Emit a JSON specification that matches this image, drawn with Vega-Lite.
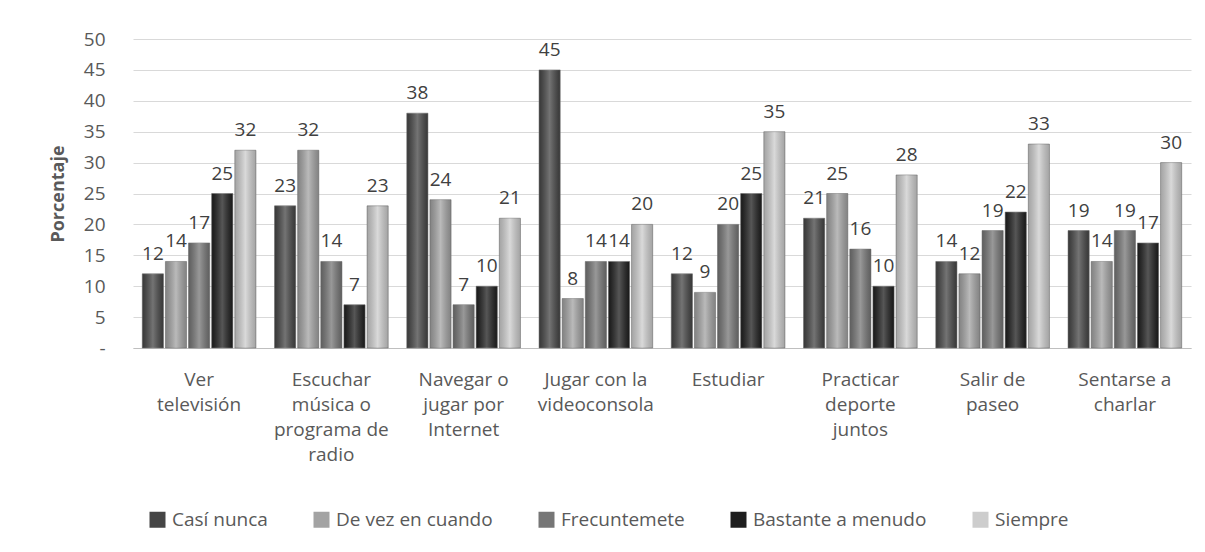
{
  "$schema": "https://vega.github.io/schema/vega-lite/v6.json",
  "autosize": "none",
  "width": 1058,
  "height": 309,
  "padding": {"left": 133, "top": 39, "right": 14, "bottom": 204},
  "background": "white",
  "config": {
    "font": "Open Sans",
    "view": {"stroke": null},
    "axis": {"labelFont": "Open Sans", "titleFont": "Open Sans"}
  },
  "data": {
    "values": [
      {"actividad": "Ver televisión", "frecuencia": "Casí nunca", "valor": 12},
      {"actividad": "Ver televisión", "frecuencia": "De vez en cuando", "valor": 14},
      {"actividad": "Ver televisión", "frecuencia": "Frecuntemete", "valor": 17},
      {"actividad": "Ver televisión", "frecuencia": "Bastante a menudo", "valor": 25},
      {"actividad": "Ver televisión", "frecuencia": "Siempre", "valor": 32},
      {"actividad": "Escuchar música o programa de radio", "frecuencia": "Casí nunca", "valor": 23},
      {"actividad": "Escuchar música o programa de radio", "frecuencia": "De vez en cuando", "valor": 32},
      {"actividad": "Escuchar música o programa de radio", "frecuencia": "Frecuntemete", "valor": 14},
      {"actividad": "Escuchar música o programa de radio", "frecuencia": "Bastante a menudo", "valor": 7},
      {"actividad": "Escuchar música o programa de radio", "frecuencia": "Siempre", "valor": 23},
      {"actividad": "Navegar o jugar por Internet", "frecuencia": "Casí nunca", "valor": 38},
      {"actividad": "Navegar o jugar por Internet", "frecuencia": "De vez en cuando", "valor": 24},
      {"actividad": "Navegar o jugar por Internet", "frecuencia": "Frecuntemete", "valor": 7},
      {"actividad": "Navegar o jugar por Internet", "frecuencia": "Bastante a menudo", "valor": 10},
      {"actividad": "Navegar o jugar por Internet", "frecuencia": "Siempre", "valor": 21},
      {"actividad": "Jugar con la videoconsola", "frecuencia": "Casí nunca", "valor": 45},
      {"actividad": "Jugar con la videoconsola", "frecuencia": "De vez en cuando", "valor": 8},
      {"actividad": "Jugar con la videoconsola", "frecuencia": "Frecuntemete", "valor": 14},
      {"actividad": "Jugar con la videoconsola", "frecuencia": "Bastante a menudo", "valor": 14},
      {"actividad": "Jugar con la videoconsola", "frecuencia": "Siempre", "valor": 20},
      {"actividad": "Estudiar", "frecuencia": "Casí nunca", "valor": 12},
      {"actividad": "Estudiar", "frecuencia": "De vez en cuando", "valor": 9},
      {"actividad": "Estudiar", "frecuencia": "Frecuntemete", "valor": 20},
      {"actividad": "Estudiar", "frecuencia": "Bastante a menudo", "valor": 25},
      {"actividad": "Estudiar", "frecuencia": "Siempre", "valor": 35},
      {"actividad": "Practicar deporte juntos", "frecuencia": "Casí nunca", "valor": 21},
      {"actividad": "Practicar deporte juntos", "frecuencia": "De vez en cuando", "valor": 25},
      {"actividad": "Practicar deporte juntos", "frecuencia": "Frecuntemete", "valor": 16},
      {"actividad": "Practicar deporte juntos", "frecuencia": "Bastante a menudo", "valor": 10},
      {"actividad": "Practicar deporte juntos", "frecuencia": "Siempre", "valor": 28},
      {"actividad": "Salir de paseo", "frecuencia": "Casí nunca", "valor": 14},
      {"actividad": "Salir de paseo", "frecuencia": "De vez en cuando", "valor": 12},
      {"actividad": "Salir de paseo", "frecuencia": "Frecuntemete", "valor": 19},
      {"actividad": "Salir de paseo", "frecuencia": "Bastante a menudo", "valor": 22},
      {"actividad": "Salir de paseo", "frecuencia": "Siempre", "valor": 33},
      {"actividad": "Sentarse a charlar", "frecuencia": "Casí nunca", "valor": 19},
      {"actividad": "Sentarse a charlar", "frecuencia": "De vez en cuando", "valor": 14},
      {"actividad": "Sentarse a charlar", "frecuencia": "Frecuntemete", "valor": 19},
      {"actividad": "Sentarse a charlar", "frecuencia": "Bastante a menudo", "valor": 17},
      {"actividad": "Sentarse a charlar", "frecuencia": "Siempre", "valor": 30}
    ]
  },
  "encoding": {
    "x": {
      "field": "actividad",
      "type": "nominal",
      "sort": null,
      "scale": {"paddingInner": 0.13, "paddingOuter": 0.065},
      "axis": {
        "title": null,
        "labelAngle": 0,
        "labelFontSize": 19,
        "labelColor": "#595959",
        "labelLineHeight": 25,
        "labelPadding": 22,
        "labelBaseline": "top",
        "domainColor": "#bfbfbf",
        "domainWidth": 1,
        "ticks": false,
        "labelExpr": "({'Ver televisión': ['Ver', 'televisión'], 'Escuchar música o programa de radio': ['Escuchar', 'música o', 'programa de', 'radio'], 'Navegar o jugar por Internet': ['Navegar o', 'jugar por', 'Internet'], 'Jugar con la videoconsola': ['Jugar con la', 'videoconsola'], 'Estudiar': ['Estudiar'], 'Practicar deporte juntos': ['Practicar', 'deporte', 'juntos'], 'Salir de paseo': ['Salir de', 'paseo'], 'Sentarse a charlar': ['Sentarse a', 'charlar']})[datum.value]"
      }
    },
    "xOffset": {
      "field": "frecuencia",
      "type": "nominal",
      "sort": ["Casí nunca", "De vez en cuando", "Frecuntemete", "Bastante a menudo", "Siempre"],
      "scale": {"paddingInner": 0.085, "paddingOuter": 0.03}
    },
    "y": {
      "field": "valor",
      "type": "quantitative",
      "scale": {"domain": [0, 50]},
      "axis": {
        "title": "Porcentaje",
        "titleFontSize": 18,
        "titleFontWeight": "bold",
        "titleColor": "#595959",
        "titlePadding": 16,
        "values": [0, 5, 10, 15, 20, 25, 30, 35, 40, 45, 50],
        "labelExpr": "datum.value == 0 ? '-' : datum.label",
        "labelFontSize": 19,
        "labelColor": "#595959",
        "labelPadding": 28,
        "ticks": false,
        "gridColor": "#d9d9d9",
        "gridWidth": 1.2,
        "domain": false
      }
    }
  },
  "layer": [
    {
      "mark": {"type": "bar", "stroke": "#7a7a7a", "strokeWidth": 0.6},
      "encoding": {
        "color": {
          "field": "frecuencia",
          "type": "nominal",
          "sort": ["Casí nunca", "De vez en cuando", "Frecuntemete", "Bastante a menudo", "Siempre"],
          "scale": {
            "domain": ["Casí nunca", "De vez en cuando", "Frecuntemete", "Bastante a menudo", "Siempre"],
            "range": ["#454545", "#a3a3a3", "#767676", "#1e1e1e", "#cdcdcd"]
          },
          "legend": {
            "title": null,
            "orient": "none",
            "direction": "horizontal",
            "legendX": 15,
            "legendY": 471,
            "symbolType": "square",
            "symbolSize": 256,
            "symbolStrokeWidth": 0,
            "labelFontSize": 19,
            "labelColor": "#595959",
            "labelFont": "Open Sans",
            "labelLimit": 400,
            "columnPadding": 44,
            "labelOffset": 5
          }
        }
      }
    },
    {
      "mark": {
        "type": "bar",
        "color": {
          "gradient": "linear",
          "x1": 0, "x2": 1, "y1": 0, "y2": 0,
          "stops": [
            {"offset": 0, "color": "rgba(0,0,0,0.2)"},
            {"offset": 0.5, "color": "rgba(255,255,255,0.25)"},
            {"offset": 1, "color": "rgba(0,0,0,0.2)"}
          ]
        }
      },
      "encoding": {}
    },
    {
      "mark": {"type": "text", "baseline": "alphabetic", "dy": -14, "fontSize": 19, "color": "#404040"},
      "encoding": {"text": {"field": "valor", "type": "quantitative"}}
    }
  ]
}
